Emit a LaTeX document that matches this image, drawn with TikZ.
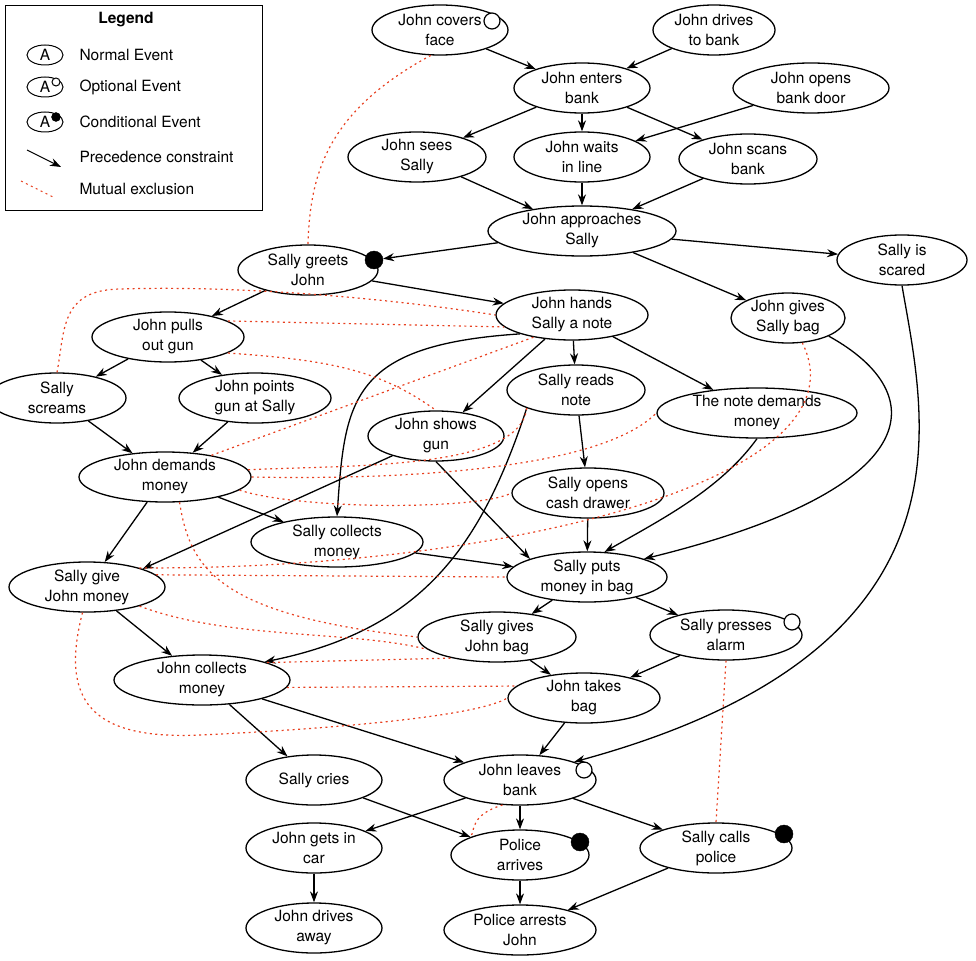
\documentclass[tikz,border=0pt]{standalone}
\usepackage{fontspec}
\setmainfont{TeX Gyre Heros}
\usetikzlibrary{shapes.geometric,arrows.meta}
\definecolor{mxred}{RGB}{232,64,32}
\tikzset{
  ev/.style={ellipse,draw,line width=1.3pt,align=center,inner sep=0pt,minimum height=50pt,minimum width=#1},
  ev/.default=138pt,
  opt/.style={circle,draw,line width=1.2pt,fill=white,inner sep=0pt,minimum size=16pt},
  cond/.style={circle,draw,fill=black,inner sep=0pt,minimum size=18pt},
  pre/.style={line width=1.3pt,-{Stealth[length=11pt,width=8pt]}},
  mx/.style={mxred,line width=1.2pt,dash pattern=on 2pt off 3.5pt},
}
\begin{document}
\begin{tikzpicture}[x=1pt,y=-1pt,font=\fontsize{15.5}{20}\selectfont]
\useasboundingbox (0,0) rectangle (976,960);
% legend
\node[draw,line width=1.3pt,minimum width=257pt,minimum height=205pt,anchor=north west] (legend) at (5,5) {};
\node[font=\fontsize{15.5}{20}\selectfont\bfseries] (legtitle) at (126,20) {Legend};
\node[ev=36pt,minimum height=20pt,line width=1pt] (lnorm) at (45,55) {A};
\node[ev=36pt,minimum height=20pt,line width=1pt] (lopt) at (45,87) {A};
\node[opt,minimum size=8pt,line width=1pt] (loptdot) at (56,82) {};
\node[ev=36pt,minimum height=20pt,line width=1pt] (lcond) at (45,122) {A};
\node[cond,minimum size=9pt] (lconddot) at (56,117) {};
\coordinate (lpa) at (27,150); \coordinate (lpb) at (61,167);
\coordinate (lma) at (21,181); \coordinate (lmb) at (55,198);
\draw[pre,line width=1.1pt] (lpa) -- (lpb);
\draw[mx,line width=1pt] (lma) -- (lmb);
\node[anchor=west] (tnorm) at (76,55) {Normal Event};
\node[anchor=west] (topt) at (76,87) {Optional Event};
\node[anchor=west] (tcond) at (76,122) {Conditional Event};
\node[anchor=west] (tpre) at (76,157) {Precedence constraint};
\node[anchor=west] (tmx) at (76,189) {Mutual exclusion};
% events
\node[ev=136pt] (cover) at (440,30) {John covers\\face};
\node[opt] (coverdot) at (492,21) {};
\node[ev=122pt] (drives) at (714,30) {John drives\\to bank};
\node[ev=136pt] (enters) at (582,88) {John enters\\bank};
\node[ev=156pt] (opens) at (811,88) {John opens\\bank door};
\node[ev=138pt] (sees) at (417,157) {John sees\\Sally};
\node[ev=136pt] (waits) at (582,157) {John waits\\in line};
\node[ev=138pt] (scans) at (748,159) {John scans\\bank};
\node[ev=188pt] (approaches) at (582,231) {John approaches\\Sally};
\node[ev=140pt] (greets) at (308,270) {Sally greets\\John};
\node[cond] (greetsdot) at (374,260) {};
\node[ev=130pt] (scared) at (902,260) {Sally is\\scared};
\node[ev=152pt] (hands) at (572,315) {John hands\\Sally a note};
\node[ev=114pt] (jgivesbag) at (788,318) {John gives\\Sally bag};
\node[ev=152pt] (pulls) at (168,337) {John pulls\\out gun};
\node[ev=138pt] (screams) at (57,398) {Sally\\screams};
\node[ev=152pt] (points) at (255,398) {John points\\gun at Sally};
\node[ev=138pt] (reads) at (576,390) {Sally reads\\note};
\node[ev=200pt] (notedemands) at (757,413) {The note demands\\money};
\node[ev=136pt] (shows) at (436,436) {John shows\\gun};
\node[ev=172pt] (demands) at (165,477) {John demands\\money};
\node[ev=152pt] (drawer) at (588,493) {Sally opens\\cash drawer};
\node[ev=172pt] (scollects) at (337,542) {Sally collects\\money};
\node[ev=156pt] (give) at (87,587) {Sally give\\John money};
\node[ev=160pt] (puts) at (587,577) {Sally puts\\money in bag};
\node[ev=158pt] (givesbag) at (497,637) {Sally gives\\John bag};
\node[ev=152pt] (presses) at (726,635) {Sally presses\\alarm};
\node[opt] (pressesdot) at (792,622) {};
\node[ev=176pt] (jcollects) at (202,680) {John collects\\money};
\node[ev=152pt] (takes) at (584,698) {John takes\\bag};
\node[ev=136pt] (cries) at (314,780) {Sally cries};
\node[ev=152pt] (leaves) at (520,780) {John leaves\\bank};
\node[opt] (leavesdot) at (584,770) {};
\node[ev=136pt] (car) at (314,848) {John gets in\\car};
\node[ev=138pt] (arrives) at (520,855) {Police\\arrives};
\node[cond] (arrivesdot) at (580,842) {};
\node[ev=152pt] (calls) at (716,848) {Sally calls\\police};
\node[cond] (callsdot) at (784,834) {};
\node[ev=136pt] (away) at (314,928) {John drives\\away};
\node[ev=152pt] (arrests) at (520,930) {Police arrests\\John};
% precedence constraints
\draw[pre] (cover) -- (enters);
\draw[pre] (drives) -- (enters);
\draw[pre] (enters) -- (sees);
\draw[pre] (enters) -- (waits);
\draw[pre] (enters) -- (scans);
\draw[pre] (opens) -- (waits);
\draw[pre] (sees) -- (approaches);
\draw[pre] (waits) -- (approaches);
\draw[pre] (scans) -- (approaches);
\draw[pre] (approaches) -- (greetsdot);
\draw[pre] (approaches) -- (scared);
\draw[pre] (approaches) -- (jgivesbag);
\draw[pre] (greets) -- (pulls);
\draw[pre] (greets) -- (hands);
\draw[pre] (hands) -- (reads);
\draw[pre] (hands) -- (notedemands);
\draw[pre] (hands) -- (shows);
\draw[pre] (hands.200) .. controls (350,345) and (345,400) .. (scollects.north);
\draw[pre] (reads.south west) .. controls (480,550) and (420,630) .. (jcollects.north east);
\draw[pre] (pulls) -- (screams);
\draw[pre] (pulls) -- (points);
\draw[pre] (screams) -- (demands);
\draw[pre] (points) -- (demands);
\draw[pre] (shows) -- (give.north east);
\draw[pre] (shows.south) -- (puts.north west);
\draw[pre] (reads) -- (drawer);
\draw[pre] (notedemands.south) .. controls (720,490) and (660,520) .. (puts.55);
\draw[pre] (drawer) -- (puts);
\draw[pre] (jgivesbag.south east) .. controls (935,395) and (925,490) .. (puts.north east);
\draw[pre] (demands) -- (give);
\draw[pre] (demands) -- (scollects);
\draw[pre] (scollects) -- (puts);
\draw[pre] (puts) -- (givesbag);
\draw[pre] (puts) -- (presses);
\draw[pre] (give) -- (jcollects);
\draw[pre] (givesbag) -- (takes);
\draw[pre] (presses) -- (takes);
\draw[pre] (jcollects) -- (cries);
\draw[pre] (jcollects) -- (leaves);
\draw[pre] (takes) -- (leaves);
\draw[pre] (scared.south) .. controls (925,420) and (985,650) .. (leaves.north east);
\draw[pre] (leaves) -- (car);
\draw[pre] (leaves) -- (arrives);
\draw[pre] (leaves) -- (calls);
\draw[pre] (cries) -- (arrives);
\draw[pre] (car) -- (away);
\draw[pre] (arrives) -- (arrests);
\draw[pre] (calls) -- (arrests);
% mutual exclusions
\draw[mx] (cover.250) .. controls (330,110) and (310,170) .. (greets.north);
\draw[mx] (screams.north) .. controls (65,330) and (60,290) .. (120,289) .. controls (250,285) and (400,300) .. (hands.west);
\draw[mx] (pulls.15) -- (hands.190);
\draw[mx] (pulls.-15) .. controls (330,360) and (380,370) .. (shows.north);
\draw[mx] (demands.25) -- (hands.210);
\draw[mx] (demands.5) .. controls (350,465) and (520,470) .. (reads.south west);
\draw[mx] (demands.0) .. controls (400,480) and (600,470) .. (notedemands.west);
\draw[mx] (demands.-10) .. controls (300,510) and (480,510) .. (drawer.west);
\draw[mx] (demands.-60) .. controls (190,570) and (220,615) .. (givesbag.west);
\draw[mx] (give.10) -- (puts.west);
\draw[mx] (give.20) .. controls (500,570) and (870,480) .. (jgivesbag.-60);
\draw[mx] (give.-20) .. controls (230,640) and (350,630) .. (givesbag.190);
\draw[mx] (give.-100) .. controls (60,700) and (90,740) .. (200,735) .. controls (350,728) and (480,715) .. (takes.west);
\draw[mx] (jcollects.15) -- (givesbag.205);
\draw[mx] (jcollects.-5) -- (takes.170);
\draw[mx] (leaves.235) .. controls (470,815) and (475,830) .. (arrives.north west);
\draw[mx] (presses.south) -- (calls.north);
\end{tikzpicture}
\end{document}
